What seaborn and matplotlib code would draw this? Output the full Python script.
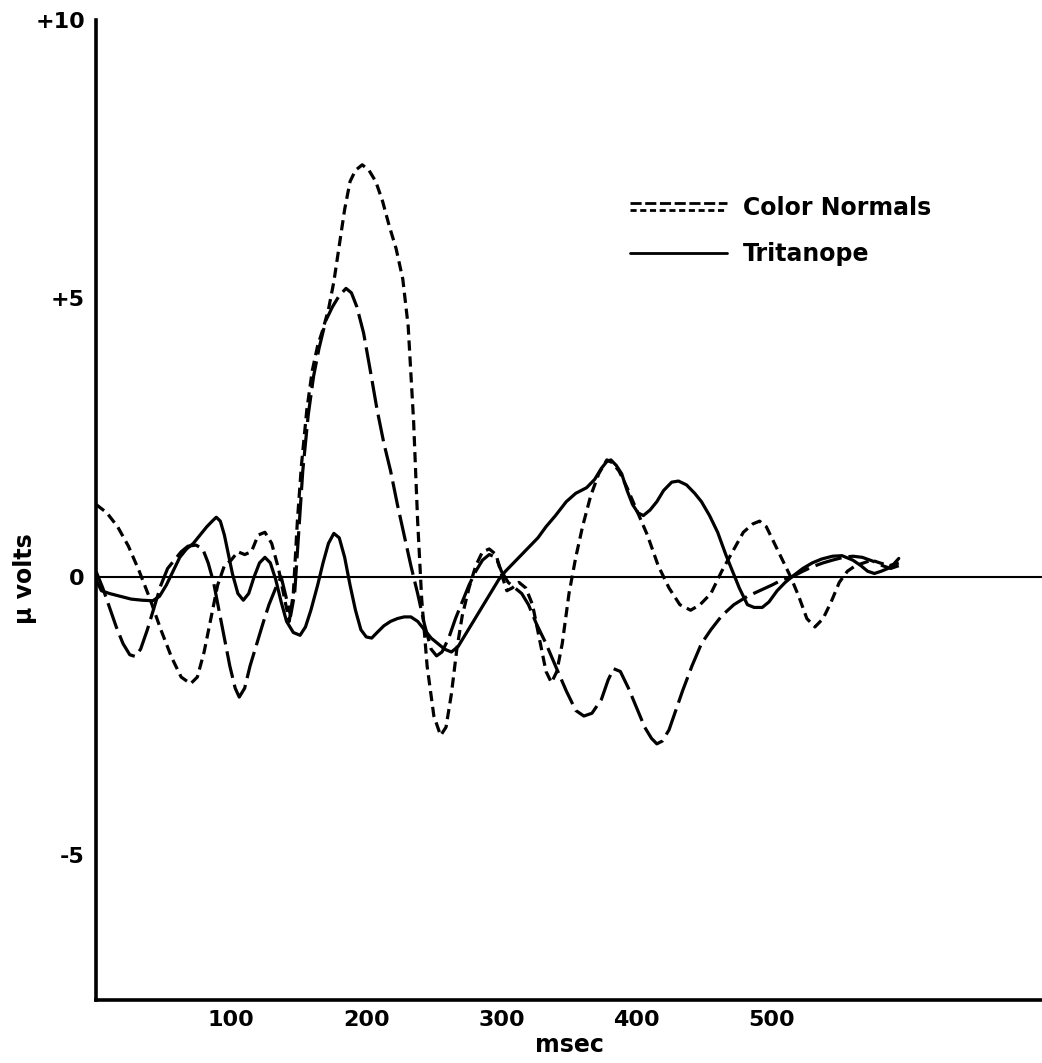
import numpy as np
import pandas as pd
import matplotlib
matplotlib.use("Agg")
import matplotlib.pyplot as plt
import seaborn as sns
from matplotlib.lines import Line2D
from matplotlib.legend_handler import HandlerBase

# Averaged evoked potentials (microvolts) against time after stimulus (msec)
normals_short_ms = [0, 8, 16, 24, 32, 40, 48, 56, 63, 70, 75, 80, 85, 90, 95, 100, 105, 110, 115, 120,
                    125, 130, 135, 140, 143, 146, 149, 152, 156, 160, 164, 168, 172, 176, 180, 184, 188,
                    192, 197, 202, 207, 212, 217, 222, 227, 231, 235, 238, 241, 245, 250, 255, 259, 263,
                    267, 271, 276, 281, 286, 291, 296, 300, 304, 308, 313, 318, 323, 328, 333, 337, 341,
                    345, 350, 355, 360, 366, 372, 378, 382, 387, 393, 400, 408, 416, 424, 432, 440, 447,
                    455, 463, 471, 479, 486, 491, 496, 502, 508, 514, 520, 526, 532, 538, 544, 550, 556,
                    562, 568, 574, 580, 587, 594]
normals_short_uv = [1.3, 1.15, 0.9, 0.55, 0.1, -0.4, -0.95, -1.45, -1.8, -1.92, -1.8, -1.35, -0.75, -0.15,
                    0.2, 0.3, 0.45, 0.4, 0.45, 0.75, 0.8, 0.6, 0.15, -0.45, -0.8, -0.3, 1.0, 2.0, 3.0, 3.7,
                    4.15, 4.45, 4.8, 5.3, 5.95, 6.6, 7.1, 7.3, 7.4, 7.3, 7.1, 6.75, 6.3, 5.9, 5.35, 4.5,
                    2.8, 1.0, -0.4, -1.6, -2.5, -2.85, -2.7, -2.1, -1.3, -0.7, -0.2, 0.2, 0.45, 0.5, 0.4,
                    0.05, -0.25, -0.2, -0.1, -0.2, -0.5, -1.1, -1.7, -1.9, -1.7, -1.2, -0.3, 0.35, 0.9,
                    1.45, 1.85, 2.1, 2.05, 1.9, 1.6, 1.2, 0.75, 0.2, -0.2, -0.5, -0.6, -0.5, -0.3, 0.1,
                    0.45, 0.8, 0.95, 1.0, 0.9, 0.6, 0.3, 0.0, -0.35, -0.75, -0.9, -0.75, -0.45, -0.1, 0.1,
                    0.2, 0.25, 0.3, 0.25, 0.2, 0.25]

normals_long_ms = [0, 5, 10, 15, 20, 25, 29, 33, 38, 43, 48, 53, 58, 63, 68, 74, 79, 83, 87, 91, 95, 99,
                   103, 106, 110, 114, 119, 124, 128, 133, 137, 141, 144, 147, 150, 153, 157, 161, 165,
                   170, 175, 180, 185, 189, 193, 198, 203, 208, 213, 218, 223, 228, 233, 238, 243, 248,
                   252, 256, 261, 266, 271, 276, 281, 286, 291, 296, 300, 305, 310, 315, 320, 326, 333,
                   340, 348, 355, 361, 367, 374, 379, 383, 388, 394, 400, 406, 411, 415, 419, 424, 429,
                   434, 441, 448, 455, 463, 472, 482, 491, 500, 508, 515, 523, 530, 538, 545, 553, 560,
                   567, 575, 582, 588, 594]
normals_long_uv = [0.1, -0.2, -0.55, -0.9, -1.2, -1.4, -1.43, -1.3, -0.95, -0.55, -0.15, 0.15, 0.3, 0.45,
                   0.55, 0.57, 0.5, 0.25, -0.1, -0.6, -1.1, -1.6, -2.0, -2.16, -2.0, -1.6, -1.2, -0.8,
                   -0.5, -0.2, 0.0, -0.4, -0.7, -0.3, 0.8, 1.9, 2.9, 3.6, 4.1, 4.6, 4.85, 5.05, 5.18, 5.1,
                   4.85, 4.38, 3.7, 3.0, 2.4, 1.9, 1.3, 0.75, 0.2, -0.3, -0.85, -1.3, -1.42, -1.35, -1.1,
                   -0.75, -0.45, -0.15, 0.1, 0.3, 0.4, 0.35, 0.1, -0.1, -0.2, -0.3, -0.5, -0.85, -1.2,
                   -1.6, -2.05, -2.4, -2.5, -2.45, -2.2, -1.85, -1.65, -1.7, -2.0, -2.35, -2.7, -2.9,
                   -3.0, -2.95, -2.75, -2.4, -2.05, -1.6, -1.2, -0.95, -0.7, -0.5, -0.35, -0.25, -0.15,
                   -0.05, 0.0, 0.1, 0.18, 0.25, 0.3, 0.35, 0.37, 0.35, 0.28, 0.2, 0.15, 0.2]

tritanope_ms = [0, 4, 10, 18, 26, 34, 42, 47, 52, 57, 62, 67, 72, 77, 82, 86, 89, 92, 95, 98, 101, 105,
                109, 113, 117, 121, 125, 129, 133, 137, 141, 146, 151, 155, 159, 164, 168, 172, 176, 180,
                184, 188, 192, 196, 200, 204, 208, 213, 218, 223, 228, 233, 238, 243, 248, 253, 258, 263,
                268, 273, 278, 283, 288, 293, 298, 303, 309, 315, 321, 327, 333, 340, 348, 355, 363, 369,
                374, 378, 381, 385, 389, 393, 397, 401, 405, 410, 415, 420, 426, 431, 437, 443, 448, 454,
                460, 466, 471, 476, 482, 487, 493, 498, 504, 510, 516, 523, 530, 537, 545, 552, 560, 566,
                571, 576, 581, 586, 590, 594]
tritanope_uv = [-0.05, -0.25, -0.3, -0.35, -0.4, -0.42, -0.43, -0.35, -0.15, 0.1, 0.35, 0.5, 0.6, 0.75,
                0.9, 1.0, 1.07, 1.0, 0.75, 0.4, 0.05, -0.3, -0.42, -0.3, 0.0, 0.25, 0.35, 0.25, -0.05,
                -0.45, -0.8, -1.0, -1.05, -0.9, -0.6, -0.15, 0.25, 0.6, 0.78, 0.7, 0.35, -0.15, -0.6,
                -0.95, -1.08, -1.1, -1.0, -0.88, -0.8, -0.75, -0.72, -0.72, -0.8, -0.95, -1.1, -1.2,
                -1.3, -1.35, -1.25, -1.05, -0.85, -0.65, -0.45, -0.25, -0.05, 0.1, 0.25, 0.4, 0.55,
                0.7, 0.9, 1.1, 1.35, 1.5, 1.6, 1.75, 1.95, 2.07, 2.1, 2.0, 1.85, 1.55, 1.3, 1.15, 1.1,
                1.2, 1.35, 1.55, 1.7, 1.72, 1.65, 1.5, 1.35, 1.1, 0.8, 0.4, 0.1, -0.2, -0.5, -0.55,
                -0.55, -0.45, -0.25, -0.1, 0.02, 0.15, 0.25, 0.32, 0.37, 0.38, 0.3, 0.2, 0.1, 0.06, 0.1,
                0.15, 0.22, 0.33]

x_ticks = [100, 200, 300, 400, 500]
y_ticks = [-5, 0, 5, 10]
y_tick_labels = ["-5", "0", "+5", "+10"]

series_names = ["Color Normals A", "Color Normals B", "Tritanope"]

df = pd.concat([
    pd.DataFrame({"msec": normals_short_ms, "uv": normals_short_uv, "group": series_names[0]}),
    pd.DataFrame({"msec": normals_long_ms, "uv": normals_long_uv, "group": series_names[1]}),
    pd.DataFrame({"msec": tritanope_ms, "uv": tritanope_uv, "group": series_names[2]}),
], ignore_index=True)

sns.set_theme(style="white")
plt.rcParams["font.family"] = ["DejaVu Sans"]
plt.rcParams["text.color"] = "black"
plt.rcParams["axes.labelcolor"] = "black"

W, H = 1042, 1063
fig = plt.figure(figsize=(W / 100, H / 100), dpi=100)
ax_left, ax_bottom = 96 / W, (H - 1000) / H
ax = fig.add_axes([ax_left, ax_bottom, 1 - ax_left, (1000 - 20) / H])

LW = 2.3
dash_styles = {
    series_names[0]: (3.2, 1.8),
    series_names[1]: (8.5, 2.2),
    series_names[2]: "",
}

ax.axhline(0, color="black", lw=1.5, zorder=1)

sns.lineplot(data=df, x="msec", y="uv", style="group", dashes=dash_styles,
             color="black", linewidth=LW, estimator=None, sort=False,
             legend=False, ax=ax, zorder=3)

ax.set_xlim(0, 700)
ax.set_ylim(-7.6, 10)

for side in ("top", "right"):
    ax.spines[side].set_visible(False)
for side in ("left", "bottom"):
    ax.spines[side].set_linewidth(2.6)
    ax.spines[side].set_color("black")

ax.set_xticks(x_ticks)
ax.set_xticklabels([str(t) for t in x_ticks])
ax.set_yticks(y_ticks)
ax.set_yticklabels(y_tick_labels)
ax.tick_params(axis="both", direction="in", length=10, width=2.2, color="black",
               labelsize=16, labelcolor="black", pad=8)
ax.tick_params(axis="x", pad=7)
for lab in ax.get_xticklabels() + ax.get_yticklabels():
    lab.set_fontweight("bold")

ax.set_xlabel("msec", fontsize=17, fontweight="bold", color="black", labelpad=2)
ax.set_ylabel("μ volts", fontsize=17, fontweight="bold", color="black")
ax.yaxis.set_label_coords((37 - 96) / (W - 96), 0.43)
ax.grid(False)


class StackedLinesHandler(HandlerBase):
    """Draws several line handles stacked one above the other."""

    def create_artists(self, legend, orig_handle, xdescent, ydescent,
                       width, height, fontsize, trans):
        artists = []
        n = len(orig_handle)
        gap = 5.0
        for i, h in enumerate(orig_handle):
            y = height / 2 + gap * ((n - 1) / 2 - i) - ydescent
            line = Line2D([-xdescent, width - xdescent], [y, y])
            line.update_from(h)
            line.set_transform(trans)
            artists.append(line)
        return artists


h_long = Line2D([], [], color="black", lw=2.0, dashes=(4.0, 1.3))
h_short = Line2D([], [], color="black", lw=2.0, dashes=(2.2, 1.3))
h_solid = Line2D([], [], color="black", lw=2.0)

leg = fig.legend([(h_long, h_short), h_solid], ["Color Normals", "Tritanope"],
                 handler_map={tuple: StackedLinesHandler()},
                 loc="upper left", bbox_to_anchor=(630 / W, 1 - 196 / H),
                 frameon=False, fontsize=17, handlelength=4.1, handletextpad=0.7,
                 labelspacing=0.95, borderpad=0, borderaxespad=0)
for t in leg.get_texts():
    t.set_fontweight("bold")
    t.set_color("black")

fig.savefig("out.png", dpi=100, facecolor="white")
